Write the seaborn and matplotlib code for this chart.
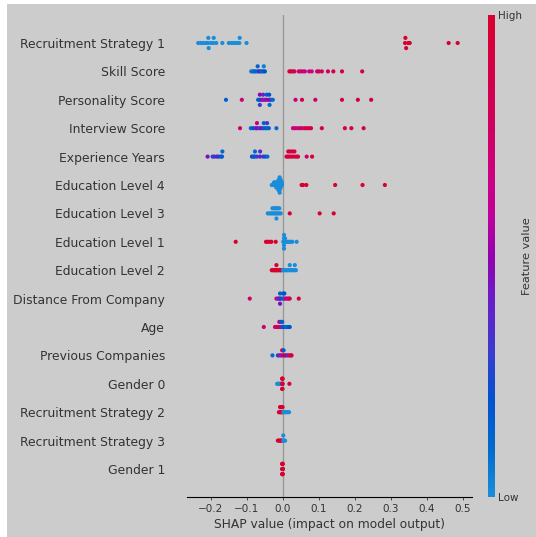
import numpy as np
import pandas as pd
import matplotlib
matplotlib.use("Agg")
import matplotlib.pyplot as plt
from matplotlib.colors import LinearSegmentedColormap
from matplotlib.patches import Rectangle
import seaborn as sns

# feature names, top row first
feature_names = [
    "Recruitment Strategy 1", "Skill Score", "Personality Score", "Interview Score",
    "Experience Years", "Education Level 4", "Education Level 3", "Education Level 1",
    "Education Level 2", "Distance From Company", "Age", "Previous Companies",
    "Gender 0", "Recruitment Strategy 2", "Recruitment Strategy 3", "Gender 1",
]

# SHAP values and (normalised) feature values per feature
rs1_shap = [-0.235, -0.228, -0.221, -0.214, -0.208, -0.207, -0.206, -0.200, -0.193, -0.192,
            -0.185, -0.168, -0.150, -0.142, -0.135, -0.128, -0.121, -0.120, -0.101,
            0.339, 0.340, 0.342, 0.348, 0.352, 0.460, 0.485]
rs1_val = [0] * 19 + [1] * 7

skill_shap = [-0.088, -0.084, -0.080, -0.076, -0.071, -0.070, -0.066, -0.062, -0.058, -0.054,
              -0.053, -0.050, 0.018, 0.022, 0.027, 0.032, 0.044, 0.049, 0.055, 0.061, 0.073,
              0.080, 0.095, 0.100, 0.108, 0.125, 0.140, 0.164, 0.220]
skill_val = [0.05, 0.10, 0.08, 0.15, 0.10, 0.12, 0.45, 0.20, 0.10, 0.15, 0.05, 0.20, 0.95,
             0.90, 0.95, 0.85, 0.75, 0.70, 0.75, 0.70, 0.62, 0.68, 0.80, 0.78, 0.85, 0.78,
             0.92, 0.95, 0.88]

pers_shap = [-0.158, -0.114, -0.069, -0.064, -0.064, -0.064, -0.058, -0.055, -0.055, -0.050,
             -0.045, -0.045, -0.0385, -0.038, -0.037, -0.033, -0.028, 0.035, 0.053, 0.090,
             0.164, 0.208, 0.245]
pers_val = [0.15, 0.70, 0.10, 0.20, 0.50, 0.30, 0.45, 0.60, 0.40, 0.35, 0.55, 0.15, 0.50,
            0.20, 0.10, 0.25, 0.10, 0.72, 0.80, 0.72, 0.92, 0.90, 0.92]

interview_shap = [-0.119, -0.089, -0.082, -0.075, -0.072, -0.072, -0.066, -0.060, -0.054,
                  -0.053, -0.048, -0.044, -0.044, -0.039, -0.018, 0.028, 0.034, 0.040, 0.047,
                  0.053, 0.060, 0.066, 0.072, 0.078, 0.108, 0.172, 0.190, 0.224]
interview_val = [0.70, 0.10, 0.20, 0.40, 0.45, 0.70, 0.30, 0.50, 0.15, 0.12, 0.20, 0.10,
                 0.30, 0.15, 0.10, 0.70, 0.75, 0.65, 0.80, 0.70, 0.85, 0.80, 0.90, 0.95,
                 0.85, 0.90, 0.90, 0.88]

exp_shap = [-0.209, -0.195, -0.190, -0.183, -0.178, -0.172, -0.169, -0.168, -0.086, -0.081,
            -0.0785, -0.0775, -0.072, -0.0635, -0.0632, -0.055, -0.049, -0.043, 0.010, 0.014,
            0.015, 0.019, 0.020, 0.025, 0.026, 0.031, 0.032, 0.037, 0.042, 0.066, 0.081]
exp_val = [0.45, 0.25, 0.35, 0.40, 0.20, 0.30, 0.15, 0.10, 0.20, 0.25, 0.15, 0.10, 0.30,
           0.40, 0.35, 0.30, 0.25, 0.10, 0.95, 0.90, 0.95, 0.90, 0.92, 0.95, 0.90, 0.93,
           0.90, 0.95, 0.90, 0.75, 0.95]

edu4_shap = [-0.031, -0.0279, -0.0247, -0.0247, -0.0216, -0.0216, -0.0184, -0.0184, -0.0184,
             -0.0153, -0.0153, -0.0153, -0.0121, -0.0121, -0.0121, -0.0121, -0.0121,
             -0.009, -0.009, -0.009, -0.009, -0.009, -0.009, -0.009,
             -0.0059, -0.0059, -0.0059, -0.0059, -0.0027, -0.0027,
             0.052, 0.056, 0.065, 0.145, 0.221, 0.283]
edu4_val = [0] * 30 + [1] * 6

edu3_shap = [-0.042, -0.037, -0.033, -0.029, -0.029, -0.025, -0.025, -0.021, -0.021, -0.018,
             -0.018, -0.018, -0.014, -0.014, -0.010, -0.010, -0.006, 0.019, 0.102, 0.141]
edu3_val = [0] * 17 + [1] * 3

edu1_shap = [-0.131, -0.047, -0.042, -0.037, -0.032, -0.020, 0.001, 0.003, 0.003, 0.003,
             0.003, 0.003, 0.006, 0.006, 0.010, 0.014, 0.018, 0.022, 0.026, 0.038]
edu1_val = [1] * 6 + [0] * 14

edu2_shap = [-0.031, -0.028, -0.025, -0.022, -0.019, -0.018, -0.018, -0.015, -0.012, -0.009,
             -0.006, -0.004, 0.000, 0.003, 0.006, 0.009, 0.012, 0.015, 0.019, 0.019, 0.022,
             0.025, 0.028, 0.033, 0.033, 0.036]
edu2_val = [1] * 12 + [0] * 14

dist_shap = [-0.092, -0.018, -0.014, -0.010, -0.008, -0.008, -0.008, -0.004, 0.000, 0.000,
             0.004, 0.004, 0.008, 0.012, 0.016, 0.019, 0.044]
dist_val = [0.75, 0.70, 0.30, 0.60, 0.45, 0.15, 0.45, 0.20, 0.10, 0.12, 0.35, 0.20, 0.70,
            0.65, 0.75, 0.80, 0.90]

age_shap = [-0.053, -0.022, -0.018, -0.014, -0.010, -0.010, -0.006, -0.006, -0.002, -0.002,
            0.002, 0.006, 0.010, 0.014, 0.019]
age_val = [0.75, 0.70, 0.75, 0.85, 0.90, 0.75, 0.60, 0.30, 0.30, 0.15, 0.20, 0.15, 0.10,
           0.15, 0.20]

prev_shap = [-0.029, -0.014, -0.010, -0.006, -0.002, -0.002, 0.002, 0.002, 0.006, 0.010,
             0.014, 0.018, 0.022, 0.024]
prev_val = [0.10, 0.20, 0.60, 0.30, 0.70, 0.90, 0.90, 0.15, 0.50, 0.85, 0.30, 0.75, 0.90, 0.95]

gender0_shap = [-0.016, -0.013, -0.010, -0.007, -0.004, -0.002, -0.002, -0.002, -0.0015,
                -0.0015, -0.0015, -0.001, -0.001, 0.018]
gender0_val = [0] * 5 + [1] * 9

rs2_shap = [-0.011, -0.008, -0.008, -0.005, -0.004, -0.004, -0.001, -0.001, 0.001, 0.005,
            0.009, 0.013, 0.017]
rs2_val = [1] * 8 + [0] * 5

rs3_shap = [-0.014, -0.011, -0.008, -0.005, -0.004, 0.001, 0.001, 0.003, 0.006]
rs3_val = [1] * 5 + [0] * 4

gender1_shap = [-0.002, -0.002, -0.002, -0.0015, -0.0015, -0.0015, -0.001, -0.001, -0.001,
                -0.0005, -0.0005, -0.0005, 0.0]
gender1_val = [1] * 13

rows = [
    (rs1_shap, rs1_val), (skill_shap, skill_val), (pers_shap, pers_val),
    (interview_shap, interview_val), (exp_shap, exp_val), (edu4_shap, edu4_val),
    (edu3_shap, edu3_val), (edu1_shap, edu1_val), (edu2_shap, edu2_val),
    (dist_shap, dist_val), (age_shap, age_val), (prev_shap, prev_val),
    (gender0_shap, gender0_val), (rs2_shap, rs2_val), (rs3_shap, rs3_val),
    (gender1_shap, gender1_val),
]

x_ticks = [-0.2, -0.1, 0.0, 0.1, 0.2, 0.3, 0.4, 0.5]


def swarm_offsets(shaps, row_height=0.4, nbins=100):
    """Vertical jitter the way shap's beeswarm stacks points in value bins."""
    shaps = np.asarray(shaps, dtype=float)
    quant = np.round(nbins * (shaps - shaps.min()) / (shaps.max() - shaps.min() + 1e-8))
    inds = np.argsort(quant, kind="stable")
    ys = np.zeros(len(shaps))
    layer, last_bin = 0, None
    for ind in inds:
        if quant[ind] != last_bin:
            layer = 0
        ys[ind] = np.ceil(layer / 2) * ((layer % 2) * 2 - 1)
        layer += 1
        last_bin = quant[ind]
    ys *= 0.9 * (row_height / np.max(ys + 1))
    return ys


# build long table
n = len(feature_names)
frames = []
for i, (s, v) in enumerate(rows):
    pos = n - 1 - i
    frames.append(pd.DataFrame({
        "shap": s,
        "value": np.asarray(v, dtype=float),
        "y": pos + swarm_offsets(s),
    }))
df = pd.concat(frames, ignore_index=True)

cmap = LinearSegmentedColormap.from_list("red_blue", [
    (0.00, "#1A8DDA"), (0.10, "#006ACD"), (0.20, "#0052D0"), (0.30, "#3A3CD0"),
    (0.41, "#6A1CC8"), (0.50, "#9400AE"), (0.58, "#BE009C"), (0.66, "#CC0084"),
    (0.80, "#D00058"), (1.00, "#D8002E"),
])

bg = "#cccccc"
axis_color = "#333333"

fig = plt.figure(figsize=(5.36, 5.37), dpi=100, facecolor="white")
fig.patches.append(Rectangle((7 / 536, 0), 1, 533 / 537, transform=fig.transFigure,
                             facecolor=bg, edgecolor="none", zorder=-10))

ax = fig.add_axes([186.7 / 536, 39.6 / 537, 285 / 536, 482.8 / 537])
ax.set_facecolor(bg)
ax.axvline(0, color="#999999", lw=1.0, zorder=1)

sns.scatterplot(data=df, x="shap", y="y", hue="value", palette=cmap, hue_norm=(0, 1),
                s=9, linewidth=0, edgecolor="none", legend=False, ax=ax, zorder=3)

ax.set_ylim(-1, n)
ax.set_xlim(-0.267, 0.524)
ax.set_yticks(range(n))
ax.set_yticklabels(feature_names[::-1], fontsize=8.9, color=axis_color)
ax.set_xticks(x_ticks)
ax.set_xticklabels([f"{t:.1f}".replace("-", "\u2212") for t in x_ticks], fontsize=7.5,
                   color=axis_color)
ax.tick_params("y", length=0, pad=15.6)
ax.tick_params("x", length=2.4, width=0.6, pad=2.4, color=axis_color)
for side in ["top", "right", "left"]:
    ax.spines[side].set_visible(False)
ax.spines["bottom"].set_linewidth(0.8)
ax.set_xlabel("SHAP value (impact on model output)", fontsize=8.85, color=axis_color,
              labelpad=2.7)
ax.set_ylabel("")

# colorbar
cax = fig.add_axes([488.3 / 536, 40 / 537, 6.5 / 536, 482 / 537])
sm = plt.cm.ScalarMappable(cmap=cmap, norm=plt.Normalize(0, 1))
cb = fig.colorbar(sm, cax=cax, ticks=[0, 1])
cb.set_ticklabels(["Low", "High"])
cb.ax.tick_params(labelsize=7.5, length=0, pad=2.4, labelcolor=axis_color)
cb.outline.set_visible(False)
cb.set_label("Feature value", size=8.2, labelpad=0, color=axis_color)

fig.savefig("out.png", dpi=100)
